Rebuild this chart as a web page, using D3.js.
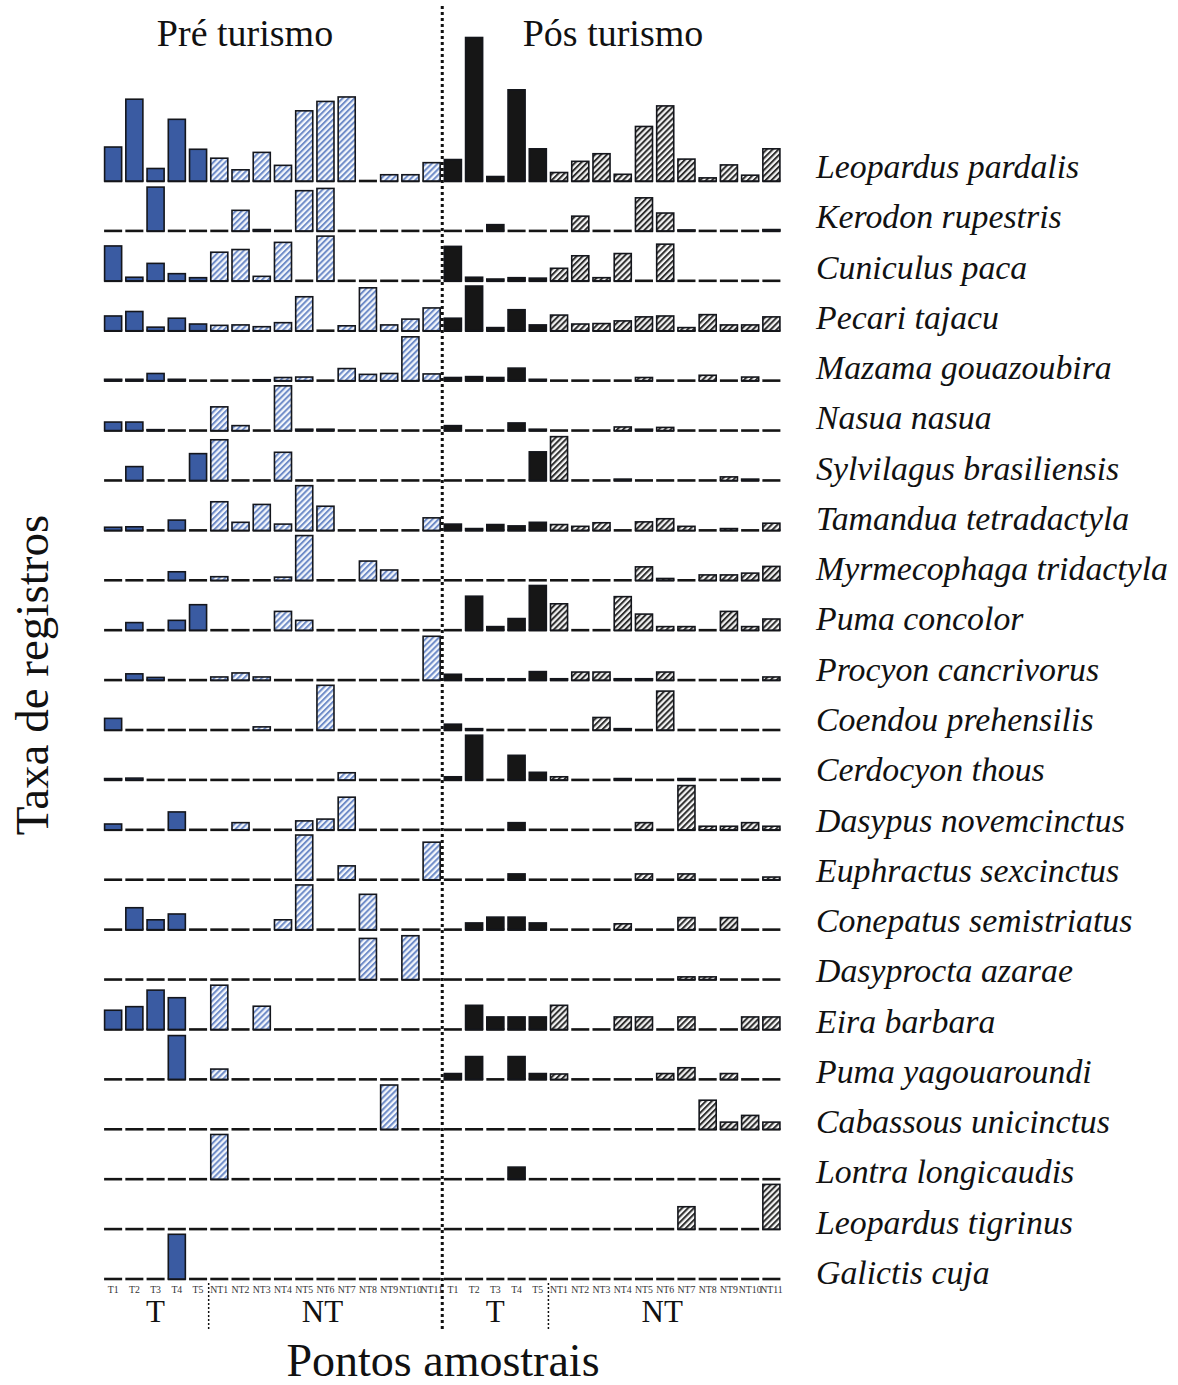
<!DOCTYPE html>
<html>
<head>
<meta charset="utf-8">
<script src="https://cdn.jsdelivr.net/npm/d3@7"></script>
<style>
  body { margin: 0; background: #fff; }
  svg { display: block; }
</style>
</head>
<body>
<svg id="chart" width="1178" height="1385"></svg>
<script>
// sampling points, repeated for pre and post tourism
var points = ["T1", "T2", "T3", "T4", "T5", "NT1", "NT2", "NT3", "NT4", "NT5", "NT6", "NT7", "NT8", "NT9", "NT10", "NT11"];
var periods = ["Pré turismo", "Pós turismo"];

var species = [
    "Leopardus pardalis", "Kerodon rupestris", "Cuniculus paca", "Pecari tajacu",
    "Mazama gouazoubira", "Nasua nasua", "Sylvilagus brasiliensis", "Tamandua tetradactyla",
    "Myrmecophaga tridactyla", "Puma concolor", "Procyon cancrivorus", "Coendou prehensilis",
    "Cerdocyon thous", "Dasypus novemcinctus", "Euphractus sexcinctus", "Conepatus semistriatus",
    "Dasyprocta azarae", "Eira barbara", "Puma yagouaroundi", "Cabassous unicinctus",
    "Lontra longicaudis", "Leopardus tigrinus", "Galictis cuja"
];

// record rate per point (one row per species), before tourism
var preTourism = [
    [7.6, 18.3, 2.8, 13.8, 7.1, 5.1, 2.5, 6.4, 3.5, 15.7, 17.8, 18.8, 0, 1.4, 1.4, 4.1],
    [0, 0, 9.8, 0, 0, 0, 4.6, 0.3, 0, 9.0, 9.5, 0, 0, 0, 0, 0],
    [7.8, 0.8, 3.9, 1.6, 0.7, 6.4, 7.0, 1.0, 8.6, 0, 10.0, 0, 0, 0, 0, 0],
    [3.3, 4.3, 0.8, 2.8, 1.5, 1.2, 1.3, 0.9, 1.8, 7.6, 0, 1.1, 9.6, 1.3, 2.6, 5.1],
    [0.3, 0.3, 1.6, 0.3, 0, 0, 0, 0.2, 0.7, 0.8, 0, 2.7, 1.4, 1.6, 9.8, 1.5],
    [1.9, 1.9, 0.2, 0, 0, 5.3, 1.1, 0, 10.0, 0.3, 0.3, 0, 0, 0, 0, 0],
    [0, 3.1, 0, 0, 6.0, 9.1, 0, 0, 6.3, 0, 0, 0, 0, 0, 0, 0],
    [0.7, 0.8, 0, 2.3, 0, 6.4, 1.8, 5.8, 1.4, 10.0, 5.4, 0, 0, 0, 0, 2.8],
    [0, 0, 0, 1.9, 0, 0.8, 0, 0, 0.7, 10.0, 0, 0, 4.3, 2.3, 0, 0],
    [0, 1.7, 0, 2.2, 5.7, 0, 0, 0, 4.2, 2.2, 0, 0, 0, 0, 0, 0],
    [0, 1.4, 0.6, 0, 0, 0.7, 1.6, 0.7, 0, 0, 0, 0, 0, 0, 0, 9.8],
    [2.6, 0, 0, 0, 0, 0, 0, 0.7, 0, 0, 10.0, 0, 0, 0, 0, 0],
    [0.3, 0.4, 0, 0, 0, 0, 0, 0, 0, 0, 0, 1.6, 0, 0, 0, 0],
    [1.3, 0, 0, 4.0, 0, 0, 1.6, 0, 0, 2.0, 2.4, 7.3, 0, 0, 0, 0],
    [0, 0, 0, 0, 0, 0, 0, 0, 0, 10.0, 0, 3.1, 0, 0, 0, 8.4],
    [0, 4.9, 2.2, 3.5, 0, 0, 0, 0, 2.2, 10.0, 0, 0, 7.9, 0, 0, 0],
    [0, 0, 0, 0, 0, 0, 0, 0, 0, 0, 0, 0, 9.2, 0, 9.8, 0],
    [4.3, 5.1, 8.8, 7.1, 0, 9.9, 0, 5.2, 0, 0, 0, 0, 0, 0, 0, 0],
    [0, 0, 0, 9.8, 0, 2.3, 0, 0, 0, 0, 0, 0, 0, 0, 0, 0],
    [0, 0, 0, 0, 0, 0, 0, 0, 0, 0, 0, 0, 0, 9.9, 0, 0],
    [0, 0, 0, 0, 0, 10.0, 0, 0, 0, 0, 0, 0, 0, 0, 0, 0],
    [0, 0, 0, 0, 0, 0, 0, 0, 0, 0, 0, 0, 0, 0, 0, 0],
    [0, 0, 0, 10.0, 0, 0, 0, 0, 0, 0, 0, 0, 0, 0, 0, 0]
];

// after tourism
var postTourism = [
    [4.8, 32.1, 1.0, 20.4, 7.2, 1.9, 4.4, 6.1, 1.5, 12.2, 16.8, 4.9, 0.7, 3.6, 1.3, 7.2],
    [0, 0, 1.4, 0, 0, 0, 3.3, 0, 0, 7.4, 4.0, 0.2, 0, 0, 0, 0.3],
    [7.7, 0.8, 0.4, 0.7, 0.6, 2.8, 5.6, 0.7, 6.1, 0, 8.2, 0, 0, 0, 0, 0],
    [2.8, 10.0, 0.7, 4.7, 1.3, 3.5, 1.5, 1.6, 2.2, 3.1, 3.3, 0.7, 3.6, 1.3, 1.3, 3.1],
    [0.7, 0.9, 0.7, 2.8, 0.3, 0, 0, 0, 0, 0.7, 0, 0, 1.2, 0, 0.8, 0],
    [1.1, 0, 0, 1.7, 0.3, 0, 0, 0, 0.8, 0.3, 0.7, 0, 0, 0, 0, 0],
    [0, 0, 0, 0, 6.4, 9.8, 0, 0, 0.3, 0, 0, 0, 0, 0.8, 0.3, 0],
    [1.4, 0.4, 1.3, 1.0, 1.8, 1.3, 0.9, 1.7, 0, 1.9, 2.6, 0.9, 0, 0.4, 0, 1.6],
    [0, 0, 0, 0, 0, 0, 0, 0, 0, 3.0, 0.4, 0, 1.2, 1.2, 1.6, 3.1],
    [0, 7.6, 0.8, 2.6, 10.0, 5.9, 0, 0, 7.5, 3.6, 0.8, 0.8, 0, 4.2, 0.8, 2.5],
    [1.3, 0.3, 0.3, 0.3, 1.9, 0.3, 1.8, 1.8, 0.3, 0.3, 1.8, 0, 0, 0, 0, 0.7],
    [1.3, 0.3, 0, 0, 0, 0, 0, 2.8, 0.3, 0, 8.7, 0, 0, 0, 0, 0],
    [0.7, 10.0, 0, 5.5, 1.7, 0.7, 0, 0, 0.3, 0, 0, 0.3, 0, 0, 0.3, 0.3],
    [0, 0, 0, 1.6, 0, 0, 0, 0, 0, 1.6, 0, 9.9, 0.8, 0.8, 1.6, 0.8],
    [0, 0, 0, 1.3, 0, 0, 0, 0, 0, 1.3, 0, 1.3, 0, 0, 0, 0.6],
    [0, 1.5, 2.8, 2.8, 1.5, 0, 0, 0, 1.3, 0, 0, 2.7, 0, 2.7, 0, 0],
    [0, 0, 0, 0, 0, 0, 0, 0, 0, 0, 0, 0.6, 0.6, 0, 0, 0],
    [0, 5.4, 2.8, 2.8, 2.8, 5.4, 0, 0, 2.8, 2.8, 0, 2.8, 0, 0, 2.8, 2.8],
    [1.3, 5.1, 0, 5.1, 1.3, 1.2, 0, 0, 0, 0, 1.3, 2.6, 0, 1.3, 0, 0],
    [0, 0, 0, 0, 0, 0, 0, 0, 0, 0, 0, 0, 6.5, 1.6, 3.1, 1.6],
    [0, 0, 0, 2.7, 0, 0, 0, 0, 0, 0, 0, 0, 0, 0, 0, 0],
    [0, 0, 0, 0, 0, 0, 0, 0, 0, 0, 0, 5.0, 0, 0, 0, 10.0],
    [0, 0, 0, 0, 0, 0, 0, 0, 0, 0, 0, 0, 0, 0, 0, 0]
];

var serif = "'Liberation Serif', 'DejaVu Serif', serif";
var svg = d3.select('#chart');

// hatch patterns
var defs = svg.append('defs');
function hatch(id, bg, stripe) {
    var p = defs.append('pattern')
        .attr('id', id)
        .attr('patternUnits', 'userSpaceOnUse')
        .attr('width', 4.2)
        .attr('height', 4.2)
        .attr('patternTransform', 'rotate(45)');
    p.append('rect').attr('width', 4.2).attr('height', 4.2).attr('fill', bg);
    p.append('rect').attr('width', 2).attr('height', 4.2).attr('fill', stripe);
}
hatch('hatchBlue', '#f4f7fc', '#6f8cc8');
hatch('hatchGray', '#f4f4f4', '#2e2e2e');

// 16 points before + 16 after
var cols = d3.range(32);
var x = d3.scaleBand().domain(cols).range([102.5, 782]).paddingInner(0.15).paddingOuter(0.075);
var rowY = d3.scalePoint().domain(species).range([181, 1279]);
var labelY = d3.scalePoint().domain(species).range([178, 1284]);
var h = d3.scaleLinear().domain([0, 10]).range([0, 44.7]);
var gap = x.step() - x.bandwidth();

function fillFor(i) {
    var pre = i < 16, t = (i % 16) < 5;
    if (pre) return t ? '#3a5ba2' : 'url(#hatchBlue)';
    return t ? '#161616' : 'url(#hatchGray)';
}

var cells = [];
species.forEach(function(s, r) {
    cols.forEach(function(i) {
        var v = i < 16 ? preTourism[r][i] : postTourism[r][i - 16];
        cells.push({ sp: s, col: i, v: v });
    });
});

// zero dashes along each row
svg.append('g').selectAll('line').data(cells).enter().append('line')
    .attr('x1', function(d) { return x(d.col); })
    .attr('x2', function(d) { return x(d.col) + x.bandwidth(); })
    .attr('y1', function(d) { return rowY(d.sp); })
    .attr('y2', function(d) { return rowY(d.sp); })
    .attr('stroke', '#151515')
    .attr('stroke-width', 2.6);

svg.append('g').selectAll('rect').data(cells.filter(function(d) { return d.v > 0; }))
    .enter().append('rect')
    .attr('x', function(d) { return x(d.col) + 0.5; })
    .attr('width', x.bandwidth() - 1)
    .attr('y', function(d) { return rowY(d.sp) - h(d.v); })
    .attr('height', function(d) { return h(d.v); })
    .attr('fill', function(d) { return fillFor(d.col); })
    .attr('stroke', '#14161c')
    .attr('stroke-width', 1.6);

// species names
svg.append('g').selectAll('text').data(species).enter().append('text')
    .attr('x', 816)
    .attr('y', function(d) { return labelY(d); })
    .attr('font-family', serif)
    .attr('font-style', 'italic')
    .attr('font-size', 33.8)
    .attr('fill', '#111')
    .text(String);

// divider between periods
var midX = x(16) - gap / 2;
svg.append('line')
    .attr('x1', midX).attr('x2', midX)
    .attr('y1', 6).attr('y2', 1330)
    .attr('stroke', '#111')
    .attr('stroke-width', 3)
    .attr('stroke-dasharray', '3,3');

// period titles
svg.append('g').selectAll('text').data(periods).enter().append('text')
    .attr('x', function(d, i) { return i === 0 ? 245 : 613; })
    .attr('y', 46)
    .attr('text-anchor', 'middle')
    .attr('font-family', serif)
    .attr('font-size', 38)
    .attr('fill', '#111')
    .text(String);

// point tick labels
svg.append('g').selectAll('text').data(cols).enter().append('text')
    .attr('x', function(i) { return x(i) + x.bandwidth() / 2; })
    .attr('y', 1293)
    .attr('text-anchor', 'middle')
    .attr('font-family', serif)
    .attr('font-size', 9.8)
    .attr('fill', '#333')
    .text(function(i) { return points[i % 16]; });

// T / NT group labels and separators
var groups = [];
[0, 16].forEach(function(o) {
    groups.push({ name: 'T', a: o, b: o + 4 });
    groups.push({ name: 'NT', a: o + 5, b: o + 15 });
});
svg.append('g').selectAll('text').data(groups).enter().append('text')
    .attr('x', function(g) { return (x(g.a) + x(g.b) + x.bandwidth()) / 2 - (g.name === 'NT' ? 3 : 0); })
    .attr('y', 1322)
    .attr('text-anchor', 'middle')
    .attr('font-family', serif)
    .attr('font-size', 31)
    .attr('fill', '#111')
    .text(function(g) { return g.name; });

svg.append('g').selectAll('line').data([5, 21]).enter().append('line')
    .attr('x1', function(i) { return x(i) - gap / 2; })
    .attr('x2', function(i) { return x(i) - gap / 2; })
    .attr('y1', 1283).attr('y2', 1330)
    .attr('stroke', '#111')
    .attr('stroke-width', 1.5)
    .attr('stroke-dasharray', '2,2');

// axis titles
svg.append('text')
    .attr('transform', 'translate(48,675) rotate(-90)')
    .attr('text-anchor', 'middle')
    .attr('font-family', serif)
    .attr('font-size', 47)
    .attr('fill', '#111')
    .text('Taxa de registros');

svg.append('text')
    .attr('x', 443)
    .attr('y', 1376)
    .attr('text-anchor', 'middle')
    .attr('font-family', serif)
    .attr('font-size', 46)
    .attr('fill', '#111')
    .text('Pontos amostrais');
</script>
</body>
</html>
